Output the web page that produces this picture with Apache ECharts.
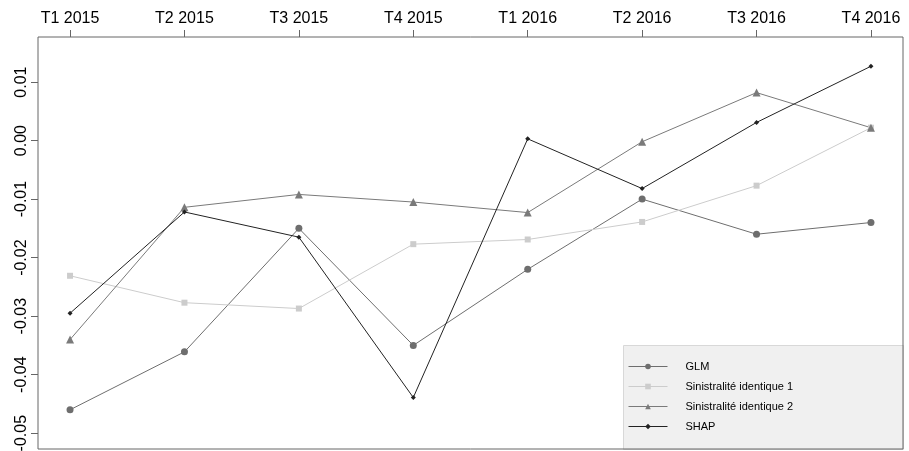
<!DOCTYPE html>
<html><head><meta charset="utf-8">
<script src="https://cdn.jsdelivr.net/npm/echarts@6/dist/echarts.min.js"></script>
<style>html,body{margin:0;padding:0;background:#fff}#c{width:909px;height:451px}</style>
</head><body><div id="c"></div>
<script>
const categories = ['T1 2015','T2 2015','T3 2015','T4 2015','T1 2016','T2 2016','T3 2016','T4 2016'];
const glm   = [-0.0460,-0.0361,-0.0150,-0.0350,-0.0220,-0.0100,-0.0160,-0.0140];
const sin1  = [-0.0231,-0.0277,-0.0287,-0.0177,-0.0169,-0.0139,-0.0077,0.0022];
const sin2  = [-0.0340,-0.0114,-0.0092,-0.0105,-0.0123,-0.0002,0.0082,0.0022];
const shap  = [-0.0295,-0.0122,-0.0165,-0.0439,0.0003,-0.0082,0.0031,0.0127];
const yTicks = [-0.05,-0.04,-0.03,-0.02,-0.01,0.00,0.01];
const names = ['GLM','Sinistralité identique 1','Sinistralité identique 2','SHAP'];

const font = 'Liberation Sans, Arial, Helvetica, sans-serif';
const pts = arr => arr.map((v,i)=>[i,v]);
const chart = echarts.init(document.getElementById('c'));
function mk(name, data, color, symbol, size){
  return {name, type:'line', data:pts(data), symbol, symbolSize:size,
    lineStyle:{color, width:1}, itemStyle:{color}, showSymbol:true, animation:false};
}
chart.setOption({
  animation:false,
  textStyle:{fontFamily:font},
  grid:{left:38, right:6, top:37, bottom:2, show:true, borderColor:'#666', borderWidth:1,
    backgroundColor:'transparent', containLabel:false, outerBoundsMode:'none'},
  xAxis:{type:'value', position:'top', min:-0.28, max:7.28,
    axisLine:{show:false, onZero:false}, splitLine:{show:false},
    axisTick:{show:true, length:7, customValues:categories.map((c,i)=>i), lineStyle:{color:'#666'}},
    axisLabel:{customValues:categories.map((c,i)=>i), formatter:v=>categories[Math.round(v)], fontSize:16, color:'#000', margin:10, fontFamily:font}
  },
  yAxis:{type:'value', min:-0.0527, max:0.0177,
    axisLine:{show:false, onZero:false}, splitLine:{show:false},
    axisTick:{show:true, length:7, customValues:yTicks, lineStyle:{color:'#666'}},
    axisLabel:{customValues:yTicks, formatter:v=>v.toFixed(2), rotate:90, fontSize:16, color:'#000', margin:8, fontFamily:font}
  },
  legend:{orient:'vertical', left:628, top:361, padding:0, itemWidth:39, itemHeight:7, itemGap:9,
    lineStyle:{width:1}, data:names, textStyle:{fontSize:11, color:'#000', fontFamily:font, padding:[0,0,0,13]}, selectedMode:false},
  graphic:[{type:'rect', left:623, top:345, shape:{width:280, height:104}, z:-1,
    style:{fill:'#f0f0f0', stroke:'#d8d8d8', lineWidth:1}}],
  series:[
    mk(names[0], glm, '#6e6e6e', 'circle', 7),
    mk(names[1], sin1, '#cccccc', 'rect', 6),
    mk(names[2], sin2, '#7a7a7a', 'triangle', 8),
    mk(names[3], shap, '#222222', 'diamond', 5)
  ]
});
</script></body></html>
